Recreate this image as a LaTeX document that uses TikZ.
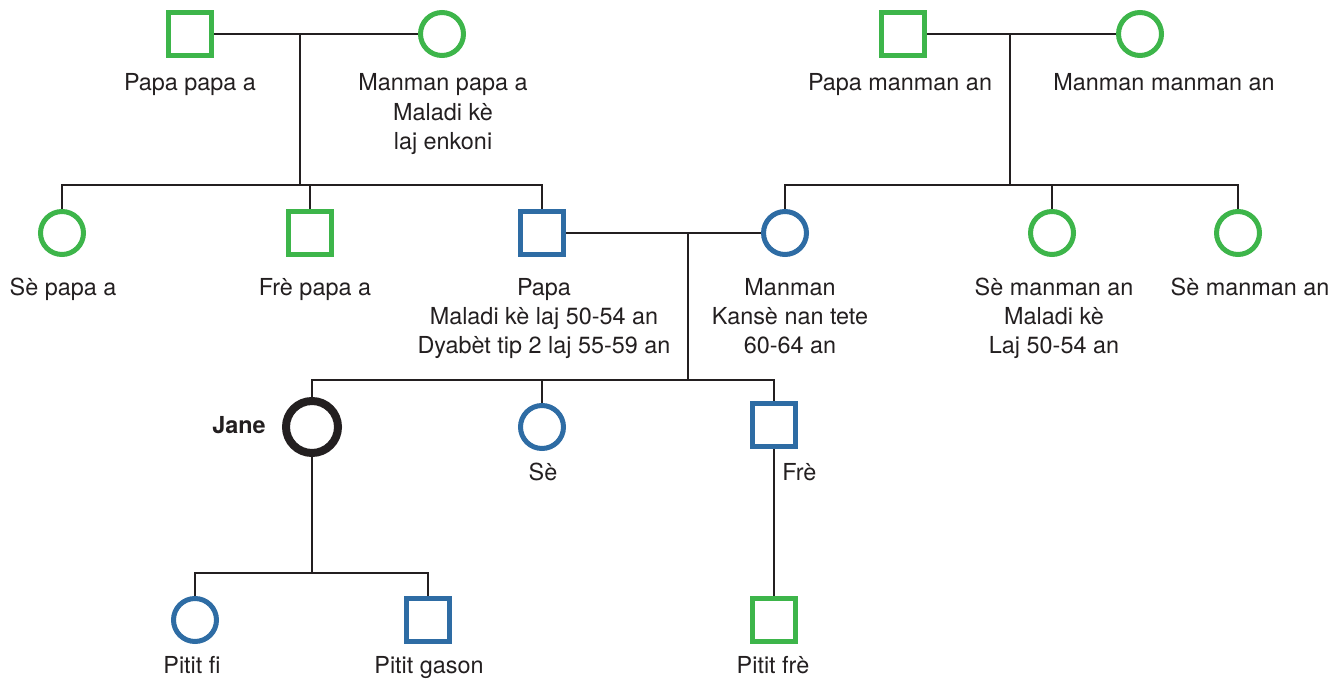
\documentclass[tikz,border=0pt]{standalone}
\usepackage{fontspec}
\setmainfont{TeX Gyre Heros}
\usetikzlibrary{shapes.geometric}
\definecolor{pgreen}{RGB}{61,181,74}
\definecolor{pblue}{RGB}{46,108,164}
\definecolor{pblack}{RGB}{35,31,32}
\begin{document}
\begin{tikzpicture}[x=0.5pt,y=-0.5pt,
  male/.style={rectangle,draw,line width=2.5pt,minimum size=21.5pt,inner sep=0pt,fill=white},
  female/.style={circle,draw,line width=2.5pt,minimum size=21.5pt,inner sep=0pt,fill=white},
  grn/.style={draw=pgreen},
  blu/.style={draw=pblue},
  selfnode/.style={circle,draw=pblack,line width=4pt,minimum size=26pt,inner sep=0pt,fill=white},
  lbl/.style={anchor=base,align=center,inner sep=0pt,font=\fontsize{11.7}{14.6}\selectfont,text=pblack},
  link/.style={draw=pblack,line width=1.35pt},
]
\useasboundingbox (0,0) rectangle (1342,679);
% people
\node[male,grn] (ppa) at (190,34) {};
\node[female,grn] (mpa) at (442,34) {};
\node[male,grn] (pma) at (903,34) {};
\node[female,grn] (mma) at (1140,34) {};
\node[female,grn] (sp) at (62,233) {};
\node[male,grn] (fp) at (310,233) {};
\node[male,blu] (papa) at (542,233) {};
\node[female,blu] (manman) at (785,233) {};
\node[female,grn] (sm1) at (1052,233) {};
\node[female,grn] (sm2) at (1238,233) {};
\node[selfnode] (jane) at (312,427) {};
\node[female,blu] (se) at (542,427) {};
\node[male,blu] (fre) at (774,425) {};
\node[female,blu] (pf) at (195,620) {};
\node[male,blu] (pg) at (428,620) {};
\node[male,grn] (pfr) at (774,620) {};
% junctions
\coordinate (j1) at (300,34);
\coordinate (c1) at (300,185);
\coordinate (j2) at (1010,34);
\coordinate (c2) at (1010,185);
\coordinate (j3) at (688,233);
\coordinate (c3) at (688,380);
\coordinate (c4) at (312,573);
% connectors
\draw[link] (ppa.east) -- (mpa.west);
\draw[link] (j1) -- (c1);
\draw[link] (sp.north) |- (c1) -| (papa.north);
\draw[link] (fp.north) -- (fp.north |- c1);
\draw[link] (pma.east) -- (mma.west);
\draw[link] (j2) -- (c2);
\draw[link] (manman.north) |- (c2) -| (sm2.north);
\draw[link] (sm1.north) -- (sm1.north |- c2);
\draw[link] (papa.east) -- (manman.west);
\draw[link] (j3) -- (c3);
\draw[link] (jane.north) |- (c3) -| (fre.north);
\draw[link] (se.north) -- (se.north |- c3);
\draw[link] (jane.south) -- (c4);
\draw[link] (pf.north) |- (c4) -| (pg.north);
\draw[link] (fre.south) -- (pfr.north);
% labels (multi-line nodes: base = baseline of last line)
\node[lbl] (lppa) at (190,91) {Papa papa a};
\node[lbl] (lmpa) at (443,149.4) {Manman papa a\\Maladi kè\\laj enkoni};
\node[lbl] (lpma) at (900,91) {Papa manman an};
\node[lbl] (lmma) at (1164,91) {Manman manman an};
\node[lbl] (lsp) at (63,295) {Sè papa a};
\node[lbl] (lfp) at (315,295) {Frè papa a};
\node[lbl] (lpapa) at (544,353.4) {Papa\\Maladi kè laj 50-54 an\\Dyabèt tip 2 laj 55-59 an};
\node[lbl] (lmanman) at (790,353.4) {Manman\\Kansè nan tete\\60-64 an};
\node[lbl] (lsm1) at (1054,353.4) {Sè manman an\\Maladi kè\\Laj 50-54 an};
\node[lbl] (lsm2) at (1250,295) {Sè manman an};
\node[lbl,anchor=base east,font=\fontsize{11.7}{14.6}\selectfont\bfseries] (ljane) at (266,433) {Jane};
\node[lbl] (lse) at (543,480) {Sè};
\node[lbl,anchor=base west] (lfre) at (782,480) {Frè};
\node[lbl] (lpf) at (192,673) {Pitit fi};
\node[lbl] (lpg) at (429,673) {Pitit gason};
\node[lbl] (lpfr) at (773,673) {Pitit frè};
\end{tikzpicture}
\end{document}
